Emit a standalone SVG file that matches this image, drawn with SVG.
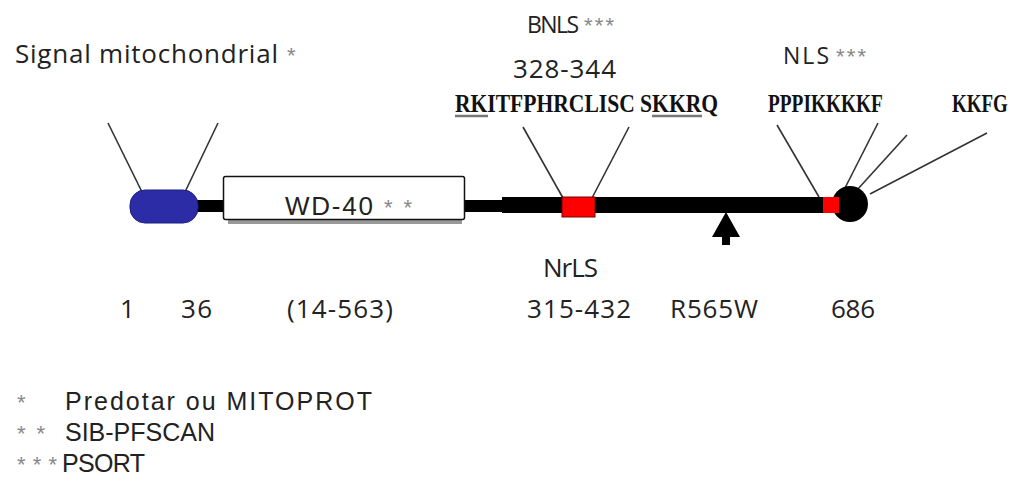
<svg xmlns="http://www.w3.org/2000/svg" width="1025" height="489" viewBox="0 0 1025 489">
<style>
.lbl{font-family:"Open Sans","Liberation Sans",sans-serif;font-size:26px;fill:#222}
.leg{font-family:"Liberation Sans",sans-serif;font-size:25px;fill:#222}
.star{font-family:"Liberation Sans",sans-serif;font-size:22px;fill:#888}
.seq{font-family:"Liberation Serif","Times New Roman",serif;font-weight:bold;font-size:26px;fill:#111}
.thin{stroke:#333;stroke-width:1.6;fill:none}
.ul{stroke:#777;stroke-width:2.5}
.bar{fill:#000}
</style>
<rect width="1025" height="489" fill="#fff"/>
<g id="connectors">
<line class="thin" x1="108" y1="123" x2="142" y2="192"/>
<line class="thin" x1="218" y1="123" x2="185" y2="192"/>
<line class="thin" x1="523" y1="127" x2="563" y2="198"/>
<line class="thin" x1="629" y1="127" x2="592" y2="198"/>
<line class="thin" x1="777" y1="125" x2="819" y2="197"/>
<line class="thin" x1="878" y1="123" x2="845" y2="188"/>
<line class="thin" x1="907" y1="135" x2="857" y2="190"/>
<line class="thin" x1="987" y1="133" x2="870" y2="194"/>
</g>
<g id="backbone">
<rect class="bar" x="192" y="200" width="34" height="12"/>
<rect class="bar" x="463" y="200" width="42" height="12"/>
<rect class="bar" x="502" y="197" width="333" height="16"/>
</g>
<g id="signal">
<rect x="130" y="190" width="68" height="33" rx="15" fill="#2c2ca6" stroke="#1c1c86" stroke-width="1"/>
</g>
<g id="wd40">
<rect x="228" y="219" width="234" height="5" fill="#999"/>
<rect x="223.5" y="176.5" width="241" height="43" rx="2" fill="#fff" stroke="#111" stroke-width="1.5"/>
<text x="285" y="215" style="font-family:'Liberation Sans',sans-serif;font-size:26px;fill:#222" textLength="88">WD-40</text>
<text class="star" x="384" y="215" textLength="28">**</text>
</g>
<g id="nrls">
<rect x="562" y="197" width="33" height="20" fill="#f00" stroke="#700" stroke-width="1"/>
</g>
<g id="mutation">
<polygon points="726,212 740,237 730,237 730,245 722,245 722,237 712,237" fill="#000"/>
</g>
<g id="nls-end">
<circle cx="850" cy="204" r="18" fill="#000"/>
<rect x="823" y="197" width="16" height="16" fill="#f00"/>
</g>
<g id="labels">
<text class="lbl" x="15" y="63" textLength="263">Signal mitochondrial</text>
<text class="star" x="287" y="63">*</text>
<text class="lbl" x="527" y="33" style="font-size:23px" textLength="52">BNLS</text>
<text class="star" x="584" y="33" textLength="30">***</text>
<text class="lbl" x="513" y="78" textLength="103">328-344</text>
<text class="lbl" x="783" y="64" style="font-size:23px" textLength="46">NLS</text>
<text class="star" x="836" y="64" textLength="30">***</text>
<text class="seq" transform="translate(455 112) scale(0.83 1)">RKITFPHRCLISC SKKRQ</text>
<line class="ul" x1="455" y1="116" x2="488" y2="116"/>
<line class="ul" x1="652" y1="116" x2="702" y2="116"/>
<text class="seq" transform="translate(768 112) scale(0.744 1)">PPPIKKKKF</text>
<text class="seq" transform="translate(952 112) scale(0.73 1)">KKFG</text>
<text class="lbl" x="543" y="277" textLength="55">NrLS</text>
<text class="lbl" x="120" y="318">1</text>
<text class="lbl" x="181" y="318" textLength="31">36</text>
<text class="lbl" x="287" y="318" textLength="106">(14-563)</text>
<text class="lbl" x="527" y="318" textLength="104">315-432</text>
<text class="lbl" x="670" y="318" textLength="88">R565W</text>
<text class="lbl" x="831" y="318" textLength="44">686</text>
</g>
<g id="legend">
<text class="star" x="17" y="410">*</text>
<text class="leg" x="65" y="410" textLength="307">Predotar ou MITOPROT</text>
<text class="star" x="17" y="441" textLength="28">**</text>
<text class="leg" x="65" y="441" textLength="150">SIB-PFSCAN</text>
<text class="star" x="17" y="472" textLength="40">***</text>
<text class="leg" x="62" y="472" textLength="83">PSORT</text>
</g>
</svg>
